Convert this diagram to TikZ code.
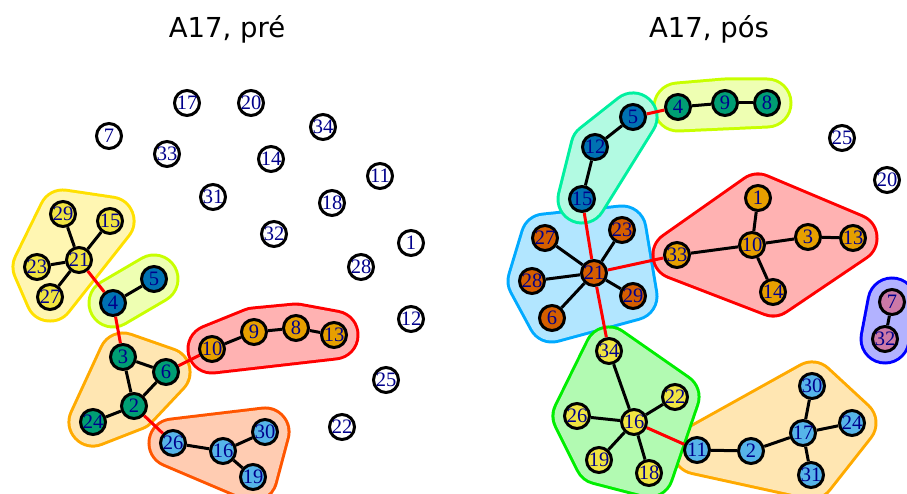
\documentclass[tikz,border=0pt]{standalone}
\usepackage{fontspec}
\newfontfamily\titlefont{DejaVu Sans}
\newfontfamily\labelfont{Liberation Serif}
\usepackage{tikz}

% vertex colours
\definecolor{cyellow}{HTML}{F0E442}
\definecolor{cblue}{HTML}{0072B2}
\definecolor{cgreen}{HTML}{009E73}
\definecolor{corange}{HTML}{E69F00}
\definecolor{csky}{HTML}{56B4E9}
\definecolor{cvermil}{HTML}{D55E00}
\definecolor{cpurple}{HTML}{CC79A7}
\definecolor{lblue}{HTML}{00008B}
% group colours
\definecolor{hgold}{HTML}{FFE000}
\definecolor{hlime}{HTML}{C8FF00}
\definecolor{horange}{HTML}{FFAA00}
\definecolor{hred}{HTML}{FF0000}
\definecolor{hvermil}{HTML}{FF5500}
\definecolor{hmint}{HTML}{00F0A0}
\definecolor{hsky}{HTML}{00AAFF}
\definecolor{hgreen}{HTML}{00EE00}
\definecolor{hblue}{HTML}{0000FF}

\pgfdeclarelayer{bg}
\pgfsetlayers{bg,main}

\tikzset{v/.style = {circle, draw=black, line width=3pt, minimum size=25pt,
                     inner sep=0pt, text=lblue,
                     font=\labelfont\fontsize{20.5}{20.5}\selectfont},
         e/.style = {line width=3pt},
         cut/.style = {e, red},
         hull/.style = {draw=#1, double=#1!30, line width=3pt,
                        double distance=45pt, line join=round, line cap=round,
                        postaction={fill=#1!30}},
         title/.style = {anchor=base, font=\titlefont\fontsize{27.5}{30}\selectfont}}

\begin{document}
\begin{tikzpicture}[x=1pt, y=-1pt]
    \useasboundingbox (0, 0) rectangle (907, 494);
    \clip (0, 0) rectangle (907, 494);

    \node [title] (tpre) at (227, 38) {A17, pré};
    \node [title] (tpos) at (709, 38) {A17, pós};

    % before
    \foreach \n/\x/\y in {17/187/103, 20/251/103, 7/109/136, 33/167/154, 34/323/127,
                          14/271/159, 11/380/176, 31/213/197, 18/332/203, 32/274/234,
                          1/411/243, 28/361/267, 12/411/319, 25/386/380, 22/342/427}
      \node [v, fill=white] (a\n) at (\x, \y) {\n};
    \foreach \n/\x/\y in {29/63/214, 15/110/221, 21/79/260, 23/37/267, 27/50/297}
      \node [v, fill=cyellow] (a\n) at (\x, \y) {\n};
    \foreach \n/\x/\y in {5/154/279, 4/113/303}
      \node [v, fill=cblue] (a\n) at (\x, \y) {\n};
    \foreach \n/\x/\y in {3/123/357, 6/166/372, 2/134/406, 24/93/422}
      \node [v, fill=cgreen] (a\n) at (\x, \y) {\n};
    \foreach \n/\x/\y in {10/212/349, 9/254/332, 8/296/328, 13/334/335}
      \node [v, fill=corange] (a\n) at (\x, \y) {\n};
    \foreach \n/\x/\y in {26/173/443, 16/223/451, 30/265/432, 19/253/477}
      \node [v, fill=csky] (a\n) at (\x, \y) {\n};

    \foreach \s/\t in {21/29, 21/15, 21/23, 21/27, 4/5, 3/6, 3/2, 6/2, 2/24,
                       10/9, 9/8, 8/13, 26/16, 16/30, 16/19}
      \draw [e] (a\s) -- (a\t);
    \foreach \s/\t in {21/4, 4/3, 6/10, 2/26}
      \draw [cut] (a\s) -- (a\t);

    % after
    \foreach \n/\x/\y in {25/842/138, 20/887/180}
      \node [v, fill=white] (b\n) at (\x, \y) {\n};
    \foreach \n/\x/\y in {4/678/107, 9/725/103, 8/767/103}
      \node [v, fill=cgreen] (b\n) at (\x, \y) {\n};
    \foreach \n/\x/\y in {5/633/117, 12/595/147, 15/582/199}
      \node [v, fill=cblue] (b\n) at (\x, \y) {\n};
    \foreach \n/\x/\y in {21/594/273, 27/545/238, 23/622/230, 28/532/281, 29/633/296, 6/552/318}
      \node [v, fill=cvermil] (b\n) at (\x, \y) {\n};
    \foreach \n/\x/\y in {33/677/255, 1/758/198, 10/752/245, 3/808/237, 13/853/238, 14/773/292}
      \node [v, fill=corange] (b\n) at (\x, \y) {\n};
    \foreach \n/\x/\y in {34/609/351, 22/675/397, 26/577/416, 16/634/422, 19/599/460, 18/649/473}
      \node [v, fill=cyellow] (b\n) at (\x, \y) {\n};
    \foreach \n/\x/\y in {11/697/450, 2/751/451, 17/803/433, 30/812/386, 24/852/423, 31/811/475}
      \node [v, fill=csky] (b\n) at (\x, \y) {\n};
    \foreach \n/\x/\y in {7/892/302, 32/885/339}
      \node [v, fill=cpurple] (b\n) at (\x, \y) {\n};

    \foreach \s/\t in {4/9, 9/8, 5/12, 12/15, 21/27, 21/23, 21/28, 21/29, 21/6,
                       33/10, 10/1, 10/3, 3/13, 10/14, 34/16, 16/22, 16/26, 16/19,
                       16/18, 11/2, 2/17, 17/30, 17/24, 17/31, 7/32}
      \draw [e] (b\s) -- (b\t);
    \foreach \s/\t in {5/4, 15/21, 21/33, 21/34, 16/11}
      \draw [cut] (b\s) -- (b\t);

    % groups go under everything
    \begin{pgfonlayer}{bg}
      \draw [hull=hgold] (a29.center) -- (a15.center) -- (a27.center) -- (a23.center) -- cycle;
      \draw [hull=hlime] (a5.center) -- (a4.center);
      \draw [hull=horange] (a3.center) -- (a6.center) -- (a2.center) -- (a24.center) -- cycle;
      \draw [hull=hred] (a10.center) -- (a9.center) -- (a8.center) -- (a13.center) -- cycle;
      \draw [hull=hvermil] (a26.center) -- (a30.center) -- (a19.center) -- cycle;

      \draw [hull=hlime] (b4.center) -- (b9.center) -- (b8.center) -- cycle;
      \draw [hull=hsky] (b27.center) -- (b23.center) -- (b29.center) -- (b6.center) -- (b28.center) -- cycle;
      \draw [hull=hmint] (b5.center) -- (b12.center) -- (b15.center) -- cycle;
      \draw [hull=hred] (b33.center) -- (b1.center) -- (b13.center) -- (b14.center) -- cycle;
      \draw [hull=horange] (b11.center) -- (b30.center) -- (b24.center) -- (b31.center) -- cycle;
      \draw [hull=hgreen] (b34.center) -- (b22.center) -- (b18.center) -- (b19.center) -- (b26.center) -- cycle;
      \draw [hull=hblue] (b7.center) -- (b32.center);
    \end{pgfonlayer}
\end{tikzpicture}
\end{document}
